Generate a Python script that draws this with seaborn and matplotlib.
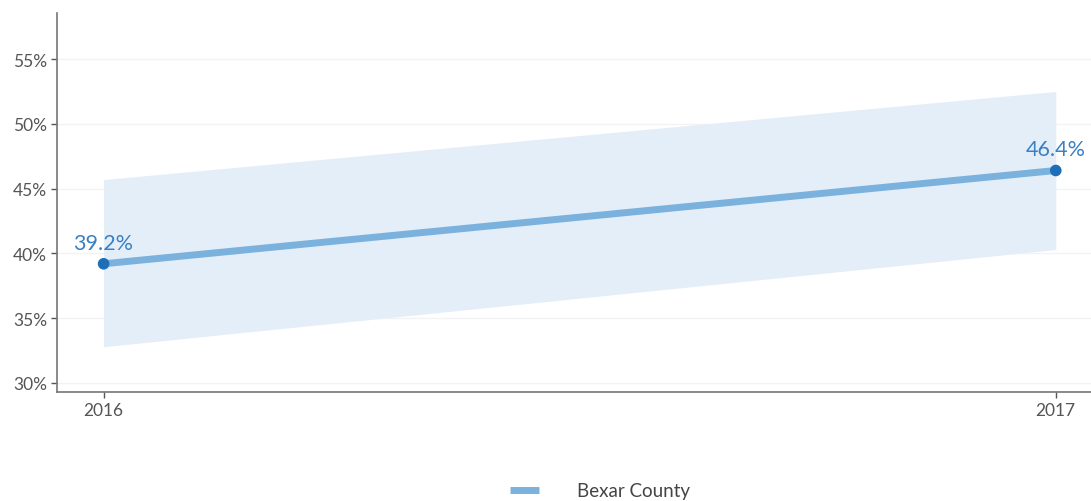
import pandas as pd
import numpy as np
import matplotlib.pyplot as plt
import seaborn as sns
from matplotlib.lines import Line2D

years = [2016, 2017]
values = [39.2, 46.4]
lower = [32.8, 40.3]
upper = [45.7, 52.5]
series_name = "Bexar County"
y_ticks = [30, 35, 40, 45, 50, 55]

df = pd.DataFrame({"year": years, "value": values, "lower": lower, "upper": upper})

sns.set_style("white")
plt.rcParams['font.family'] = ['Lato', 'DejaVu Sans']

fig = plt.figure(figsize=(10.91, 5.02), dpi=100)
ax = fig.add_axes([0.0522, 0.217, 0.9478, 0.755])

ax.fill_between(df["year"], df["lower"], df["upper"], color="#e4eef8", linewidth=0, zorder=1)
sns.lineplot(data=df, x="year", y="value", ax=ax, color="#7ab2dd", linewidth=5,
             solid_capstyle="butt", zorder=3, legend=False)
sns.scatterplot(data=df, x="year", y="value", ax=ax, color="#1f6fb8", s=70,
                edgecolor="none", zorder=4, legend=False)

for x, v in zip(years, values):
    ax.annotate(f"{v}%", (x, v), xytext=(0, 8), textcoords="offset points",
                ha="center", va="bottom", color="#3a80c2", fontsize=15.5)

ax.set_xlim(2015.951, 2017.037)
ax.set_ylim(29.3, 58.55)
ax.set_xticks(years)
ax.set_xticklabels([str(y) for y in years])
ax.set_yticks(y_ticks)
ax.set_yticklabels([f"{t}%" for t in y_ticks])
for t in y_ticks:
    ax.axhline(t, color="#f3f3f3", linewidth=1, zorder=0)

ax.tick_params(axis="both", colors="#555555", labelsize=12.5, length=4, width=1,
               direction="out", bottom=True, left=True)
ax.tick_params(axis="y", pad=3)
for side in ["top", "right"]:
    ax.spines[side].set_visible(False)
for side in ["left", "bottom"]:
    ax.spines[side].set_color("#777777")
    ax.spines[side].set_linewidth(1.2)
ax.set_xlabel("")
ax.set_ylabel("")

handle = Line2D([0], [0], color="#7ab2dd", linewidth=5, solid_capstyle="butt")
fig.legend([handle], [series_name], loc="center", bbox_to_anchor=(0.55, 0.02),
           frameon=False, fontsize=13.5, handlelength=1.55, handletextpad=2.0,
           labelcolor="#444444")

fig.savefig("out.png", dpi=100)
